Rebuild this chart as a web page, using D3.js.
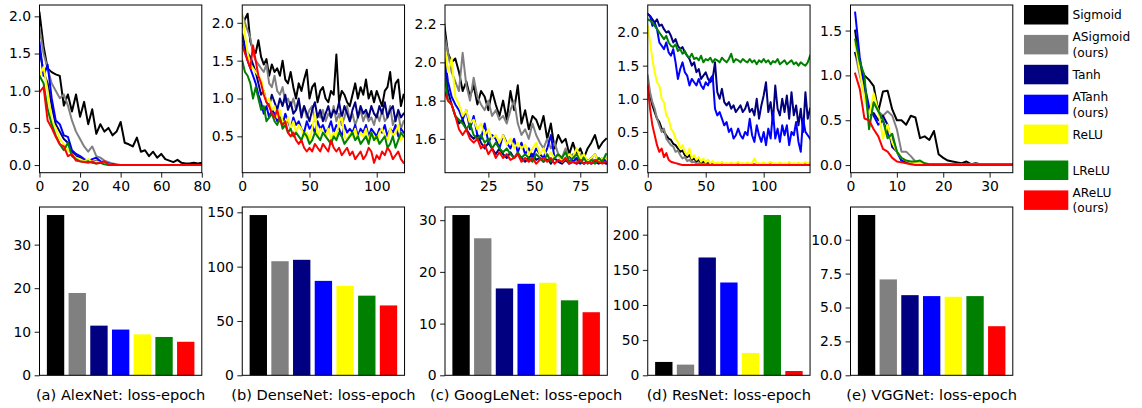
<!DOCTYPE html>
<html><head><meta charset="utf-8">
<script src="https://cdn.jsdelivr.net/npm/d3@7"></script>
<style>body{margin:0;background:#fff;} svg{display:block;} text{font-family:"DejaVu Sans",sans-serif;}</style>
</head><body><svg id="c" width="1142" height="408"></svg>
<script>
// ---------------- data ----------------
const seriesNames = ["Sigmoid","ASigmoid (ours)","Tanh","ATanh (ours)","ReLU","LReLU","AReLU (ours)"];
const seriesColors = ["#000000","#808080","#000080","#0000ff","#ffff00","#008000","#ff0000"];
const legendLabels = [["Sigmoid"],["ASigmoid","(ours)"],["Tanh"],["ATanh","(ours)"],["ReLU"],["LReLU"],["AReLU","(ours)"]];
const captions = ["(a) AlexNet: loss-epoch","(b) DenseNet: loss-epoch","(c) GoogLeNet: loss-epoch","(d) ResNet: loss-epoch","(e) VGGNet: loss-epoch"];

// AlexNet (epochs 0..80 step 2)
const alexEpochs = d3.range(0, 81, 2);
const alexSigmoid  = [2.05,1.6,1.3,1.25,1.22,1.2,0.8,0.95,0.72,0.95,0.65,0.85,0.55,0.75,0.42,0.55,0.45,0.5,0.4,0.45,0.58,0.3,0.28,0.25,0.37,0.18,0.2,0.12,0.18,0.1,0.15,0.08,0.06,0.04,0.07,0.03,0.02,0.02,0.03,0.02,0.03];
const alexASigmoid = [1.85,1.5,1.3,1.1,1.0,0.9,0.95,0.8,0.6,0.45,0.35,0.25,0.18,0.25,0.12,0.1,0.06,0.04,0.02,0.01,0,0,0,0,0,0,0,0,0,0,0,0,0,0,0,0,0,0,0,0,0];
const alexTanh     = [1.55,1.25,1.1,0.8,0.55,0.45,0.35,0.3,0.18,0.12,0.1,0.06,0.05,0.04,0.06,0.03,0.02,0.01,0,0,0,0,0,0,0,0,0,0,0,0,0,0,0,0,0,0,0,0,0,0,0];
const alexATanh    = [1.65,1.2,1.35,0.9,0.6,0.55,0.4,0.38,0.2,0.15,0.12,0.08,0.05,0.08,0.1,0.05,0.04,0.02,0.01,0,0,0,0,0,0,0,0,0,0,0,0,0,0,0,0,0,0,0,0,0,0];
const alexReLU     = [1.2,1.32,1.0,0.6,0.5,0.35,0.28,0.2,0.15,0.1,0.08,0.05,0.08,0.04,0.05,0.03,0.02,0.01,0,0,0,0,0,0,0,0,0,0,0,0,0,0,0,0,0,0,0,0,0,0,0];
const alexLReLU    = [1.2,1.1,0.75,0.55,0.4,0.28,0.2,0.3,0.12,0.08,0.05,0.04,0.05,0.03,0.02,0.03,0.01,0,0,0,0,0,0,0,0,0,0,0,0,0,0,0,0,0,0,0,0,0,0,0,0];
const alexAReLU    = [0.98,1.05,0.6,0.5,0.38,0.28,0.25,0.12,0.15,0.06,0.05,0.04,0.03,0.05,0.02,0.03,0.05,0.01,0,0,0,0,0,0,0,0,0,0,0,0,0,0,0,0,0,0,0,0,0,0,0];
const alexBars = [36.8,18.9,11.4,10.5,9.4,8.8,7.7];

// DenseNet (epochs 0..120 step 2)
const denseEpochs = d3.range(0, 121, 2);
const denseSigmoid  = [1.95,2.05,2.12,1.75,1.65,1.6,1.77,1.55,1.45,1.52,1.3,1.45,1.35,1.4,1.3,1.5,1.25,1.2,1.35,1.15,1.0,1.2,1.1,1.25,1.38,1.0,1.15,1.2,0.95,1.1,1.15,1.0,0.95,1.1,1.05,1.58,0.95,1.1,1.05,0.95,0.9,1.05,1.2,1.0,1.15,1.05,1.25,1.0,1.1,0.95,1.1,1.0,0.9,1.1,1.15,1.35,1.0,1.2,1.25,0.9,1.05];
const denseASigmoid = [2.1,2.0,1.9,1.8,1.6,1.5,1.45,1.4,1.35,1.45,1.2,1.15,1.3,1.1,1.05,1.15,0.95,1.0,0.9,1.0,0.85,0.95,0.8,0.9,0.75,0.85,0.9,0.7,0.8,0.75,0.85,0.7,0.8,0.75,0.9,0.7,0.8,0.65,0.75,0.9,0.7,0.8,0.65,0.75,0.85,0.7,0.8,0.7,0.75,0.65,0.8,0.7,0.85,0.7,0.75,0.9,0.65,0.75,0.8,0.6,0.7];
const denseTanh     = [1.85,1.7,1.6,1.55,1.45,1.35,1.2,1.05,1.1,0.95,0.9,1.05,0.95,0.85,1.0,0.9,1.05,0.85,0.95,0.8,0.85,1.0,0.75,0.9,0.8,0.7,0.85,0.95,0.75,0.85,0.7,0.8,0.9,0.75,0.85,0.8,0.95,0.75,0.9,0.8,0.7,0.85,0.95,0.75,0.9,0.8,0.85,0.75,0.9,0.8,0.75,0.9,0.8,0.95,0.75,0.85,0.9,0.7,0.85,0.75,0.8];
const denseATanh    = [1.8,1.65,1.5,1.4,1.3,1.2,1.05,0.95,0.8,0.9,0.75,0.85,0.8,0.7,0.75,0.65,0.8,0.7,0.6,0.75,0.65,0.7,0.6,0.55,0.7,0.6,0.65,0.55,0.7,0.6,0.65,0.55,0.6,0.7,0.55,0.65,0.6,0.5,0.65,0.55,0.6,0.55,0.65,0.5,0.6,0.55,0.65,0.5,0.6,0.55,0.5,0.6,0.55,0.65,0.5,0.6,0.55,0.65,0.5,0.6,0.55];
const denseReLU     = [2.1,1.85,1.6,1.45,1.4,1.35,1.3,1.25,1.1,0.95,1.0,0.85,0.9,0.75,0.85,0.7,0.65,0.75,0.6,0.7,0.55,0.65,0.6,0.5,0.55,0.45,0.6,0.8,0.5,0.6,0.55,0.5,0.6,0.45,0.55,0.5,0.7,0.75,0.5,0.45,0.55,0.5,0.6,0.45,0.55,0.5,0.6,0.45,0.55,0.5,0.45,0.55,0.6,0.5,0.45,0.6,0.5,0.55,0.65,0.45,0.5];
const denseLReLU    = [1.5,1.35,1.3,1.2,1.0,1.15,1.0,0.85,0.9,0.7,0.75,0.8,0.7,0.65,0.75,0.6,0.65,0.55,0.6,0.5,0.55,0.5,0.45,0.55,0.5,0.4,0.45,0.55,0.5,0.45,0.55,0.5,0.45,0.4,0.5,0.45,0.55,0.5,0.4,0.45,0.5,0.55,0.45,0.5,0.4,0.45,0.5,0.4,0.55,0.45,0.5,0.4,0.45,0.5,0.35,0.4,0.5,0.35,0.45,0.55,0.5];
const denseAReLU    = [1.7,1.6,1.5,1.4,1.7,1.5,1.3,1.2,1.05,0.95,0.9,0.8,0.75,0.85,0.7,0.65,0.7,0.55,0.5,0.55,0.45,0.4,0.45,0.35,0.3,0.35,0.3,0.4,0.35,0.3,0.4,0.35,0.3,0.45,0.35,0.3,0.35,0.25,0.3,0.35,0.25,0.3,0.2,0.25,0.3,0.2,0.25,0.35,0.3,0.15,0.25,0.2,0.3,0.25,0.35,0.3,0.2,0.25,0.3,0.2,0.15];
const denseBars = [147.5,105,106.3,86.9,82.3,73.3,64.3];

// GoogLeNet (epochs 1..89 step 2)
const googEpochs = d3.range(1, 90, 2);
const googSigmoid  = [2.2,2.05,2.0,2.02,1.95,1.85,1.9,1.82,1.88,1.78,1.85,1.82,1.75,1.85,1.78,1.72,1.8,1.7,1.85,1.75,1.88,1.68,1.75,1.65,1.72,1.7,1.65,1.72,1.6,1.68,1.55,1.62,1.58,1.6,1.52,1.58,1.52,1.55,1.5,1.55,1.58,1.62,1.55,1.58,1.6];
const googASigmoid = [2.15,2.05,1.95,1.9,1.85,2.05,1.88,1.8,1.92,1.82,1.78,1.75,1.8,1.72,1.75,1.7,1.72,1.68,1.75,1.8,1.68,1.62,1.65,1.6,1.68,1.62,1.58,1.55,1.6,1.55,1.58,1.52,1.5,1.55,1.5,1.52,1.48,1.52,1.5,1.48,1.5,1.48,1.5,1.48,1.5];
const googTanh     = [2.0,1.85,1.78,1.72,1.68,1.7,1.65,1.62,1.6,1.62,1.58,1.55,1.58,1.55,1.52,1.55,1.52,1.5,1.53,1.5,1.52,1.5,1.48,1.5,1.52,1.49,1.5,1.48,1.5,1.47,1.5,1.48,1.47,1.49,1.47,1.48,1.47,1.48,1.47,1.49,1.47,1.48,1.47,1.48,1.47];
const googATanh    = [2.05,1.9,1.82,1.78,1.75,1.7,1.75,1.65,1.72,1.62,1.6,1.68,1.58,1.62,1.6,1.55,1.62,1.58,1.55,1.6,1.53,1.58,1.52,1.55,1.5,1.55,1.52,1.5,1.55,1.62,1.5,1.52,1.48,1.5,1.52,1.48,1.5,1.47,1.5,1.48,1.5,1.52,1.48,1.5,1.48];
const googReLU     = [2.1,1.95,2.02,1.82,1.78,1.72,1.75,1.68,1.7,1.65,1.68,1.62,1.65,1.6,1.62,1.58,1.62,1.57,1.6,1.55,1.58,1.55,1.57,1.52,1.55,1.58,1.52,1.55,1.5,1.53,1.5,1.52,1.48,1.5,1.52,1.5,1.55,1.5,1.52,1.48,1.5,1.52,1.48,1.5,1.5];
const googLReLU    = [1.95,1.8,1.78,1.72,1.7,1.68,1.65,1.68,1.62,1.6,1.62,1.58,1.6,1.55,1.58,1.55,1.53,1.55,1.52,1.5,1.53,1.5,1.52,1.5,1.48,1.52,1.5,1.48,1.52,1.48,1.5,1.52,1.5,1.53,1.48,1.5,1.52,1.48,1.5,1.47,1.49,1.47,1.5,1.48,1.52];
const googAReLU    = [1.85,1.8,1.78,1.72,1.65,1.62,1.65,1.6,1.58,1.6,1.55,1.57,1.52,1.55,1.5,1.53,1.5,1.52,1.49,1.5,1.52,1.48,1.5,1.48,1.5,1.47,1.49,1.5,1.48,1.5,1.47,1.49,1.48,1.5,1.47,1.48,1.47,1.49,1.47,1.48,1.47,1.49,1.48,1.47,1.48];
const googBars = [31.0,26.5,16.8,17.7,17.9,14.5,12.2];

// ResNet (epochs 0..140 step 2)
const resEpochs = d3.range(0, 141, 2);
const resSigmoid  = [1.18,1.05,0.9,0.8,0.7,0.65,0.55,0.5,0.45,0.4,0.38,0.32,0.3,0.25,0.2,0.22,0.15,0.12,0.15,0.08,0.1,0.05,0.08,0.03,0.05,0.02,0.03,0.02,0.01,0.01,0.01,0.01,0.01,0.01,0.01,0.01,0.01,0.01,0.01,0.01,0.01,0.01,0.01,0.01,0.01,0.01,0.01,0.01,0.01,0.01,0.01,0.01,0.01,0.01,0.01,0.01,0.01,0.01,0.01,0.01,0.01,0.01,0.01,0.01,0.01,0.01,0.01,0.01,0.01,0.01,0.01];
const resASigmoid = [1.35,1.1,0.95,0.85,0.7,0.6,0.5,0.55,0.4,0.35,0.3,0.28,0.2,0.22,0.15,0.1,0.12,0.06,0.08,0.04,0.05,0.02,0.03,0.01,0.02,0.01,0.01,0.01,0.01,0.01,0.01,0.01,0.01,0.01,0.01,0.01,0.01,0.01,0.01,0.01,0.01,0.01,0.01,0.01,0.01,0.01,0.01,0.01,0.01,0.01,0.01,0.01,0.01,0.01,0.01,0.01,0.01,0.01,0.01,0.01,0.01,0.01,0.01,0.01,0.01,0.01,0.01,0.01,0.01,0.01,0.01];
const resTanh     = [2.28,2.25,2.2,2.15,2.2,2.1,2.12,2.05,2.0,2.02,1.95,1.85,1.9,1.8,1.75,1.78,1.7,1.65,1.6,1.5,1.55,1.4,1.45,1.3,1.35,1.4,1.3,1.25,1.3,1.55,1.1,1.0,1.15,0.95,0.9,0.95,0.85,0.9,0.8,0.85,0.9,0.8,0.85,0.95,0.8,0.85,0.75,1.0,0.7,0.9,1.05,1.25,0.8,0.95,0.65,1.2,0.85,0.75,1.0,0.8,1.05,0.7,1.1,0.75,0.9,0.6,0.85,0.5,1.1,0.7,0.85];
const resATanh    = [2.28,2.25,2.1,2.15,2.05,1.85,1.8,1.75,1.85,1.7,1.65,1.75,1.55,1.3,1.45,1.55,1.4,1.35,1.2,1.3,1.25,1.2,1.3,1.2,1.15,1.25,1.2,1.3,1.35,0.85,0.75,0.8,0.7,0.6,0.65,0.5,0.55,0.4,0.45,0.55,0.45,0.4,0.5,0.45,0.7,0.45,0.35,0.6,0.45,0.35,0.5,0.3,0.55,0.4,0.8,0.4,0.55,0.35,0.6,0.45,0.6,0.3,0.5,0.45,0.65,0.35,0.2,0.7,0.5,0.45,0.4];
const resReLU     = [2.1,1.85,1.6,1.4,1.25,1.2,1.0,0.95,0.75,0.7,0.55,0.5,0.4,0.35,0.25,0.3,0.2,0.15,0.25,0.1,0.15,0.08,0.12,0.05,0.1,0.04,0.08,0.03,0.06,0.02,0.04,0.02,0.05,0.02,0.03,0.02,0.04,0.02,0.03,0.05,0.02,0.03,0.02,0.04,0.02,0.03,0.1,0.02,0.03,0.02,0.04,0.02,0.03,0.05,0.02,0.03,0.02,0.04,0.02,0.03,0.02,0.05,0.02,0.03,0.02,0.04,0.02,0.03,0.05,0.02,0.04];
const resLReLU    = [2.2,2.18,2.15,2.1,2.05,2.0,1.95,1.9,1.95,1.85,1.8,1.78,1.82,1.72,1.75,1.68,1.72,1.65,1.62,1.68,1.6,1.62,1.58,1.65,1.55,1.6,1.58,1.62,1.55,1.6,1.58,1.55,1.62,1.58,1.55,1.6,1.68,1.55,1.6,1.58,1.55,1.6,1.57,1.55,1.6,1.55,1.58,1.52,1.58,1.55,1.6,1.55,1.58,1.52,1.57,1.55,1.6,1.52,1.55,1.58,1.52,1.55,1.58,1.52,1.55,1.5,1.55,1.52,1.5,1.55,1.65];
const resAReLU    = [1.2,0.85,0.6,0.45,0.3,0.2,0.25,0.12,0.18,0.08,0.05,0.04,0.03,0.02,0.01,0,0,0,0,0,0,0,0,0,0,0,0,0,0,0,0,0,0,0,0,0,0,0,0,0,0,0,0,0,0,0,0,0,0,0,0,0,0,0,0,0,0,0,0,0,0,0,0,0,0,0,0,0,0,0,0];
const resBars = [19.0,15.2,167.6,132.0,31.8,228.0,6.1];

// VGGNet (epochs 1..35)
const vggEpochs = d3.range(1, 36, 1);
const vggSigmoid  = [1.5,1.1,1.0,0.95,0.88,0.6,0.82,0.83,0.62,0.5,0.5,0.45,0.55,0.53,0.3,0.32,0.28,0.38,0.12,0.08,0.05,0.04,0.03,0.02,0.04,0.01,0.02,0.01,0.01,0.01,0.01,0.01,0.01,0.01,0.01];
const vggASigmoid = [1.25,1.0,0.8,0.6,0.7,0.6,0.55,0.6,0.55,0.4,0.15,0.15,0.1,0.04,0.02,0.01,0.01,0.01,0.01,0.01,0.01,0.01,0.01,0.01,0.01,0.01,0.01,0.01,0.01,0.01,0.01,0.01,0.01,0.01,0.01];
const vggTanh     = [1.25,1.1,0.9,0.55,0.58,0.5,0.55,0.45,0.2,0.15,0.05,0.03,0.02,0.01,0.01,0.01,0.01,0.01,0.01,0.01,0.01,0.01,0.01,0.01,0.01,0.01,0.01,0.01,0.01,0.01,0.01,0.01,0.01,0.01,0.01];
const vggATanh    = [1.7,1.2,0.9,0.65,0.55,0.45,0.5,0.35,0.3,0.15,0.05,0.03,0.02,0.01,0.01,0.01,0.01,0.01,0.01,0.01,0.01,0.01,0.01,0.01,0.01,0.01,0.01,0.01,0.01,0.01,0.01,0.01,0.01,0.01,0.01];
const vggReLU     = [1.35,1.05,0.75,0.55,0.8,0.6,0.3,0.45,0.25,0.15,0.08,0.05,0.03,0.02,0.02,0.01,0.01,0.01,0.01,0.01,0.01,0.01,0.01,0.01,0.01,0.01,0.01,0.01,0.01,0.01,0.01,0.01,0.01,0.01,0.01];
const vggLReLU    = [1.4,1.15,1.0,0.4,0.7,0.6,0.5,0.3,0.35,0.15,0.08,0.05,0.04,0.04,0.05,0.02,0.01,0.01,0.01,0.01,0.01,0.01,0.01,0.01,0.01,0.01,0.01,0.01,0.01,0.01,0.01,0.01,0.01,0.01,0.01];
const vggAReLU    = [1.02,0.85,0.52,0.5,0.4,0.32,0.18,0.15,0.08,0.04,0.03,0.02,0.01,0,0,0,0,0,0,0,0,0,0,0,0,0,0,0,0,0,0,0,0,0,0];
const vggBars = [11.82,7.07,5.91,5.84,5.79,5.84,3.62];

// axis settings
const lineXDomains = [[0,80],[0,120.7],[1.4,89.7],[0,140],[0,35]];
const lineYDomains = [[-0.1025,2.1525],[0.02,2.235],[1.423,2.3],[-0.115,2.415],[-0.085,1.785]];
const lineXTicks = [[0,20,40,60,80],[0,50,100],[25,50,75],[0,50,100],[0,10,20,30]];
const lineYTicks = [[0,0.5,1,1.5,2],[0.5,1,1.5,2],[1.6,1.8,2.0,2.2],[0,0.5,1,1.5,2],[0,0.5,1,1.5]];
const barYMax = [38.64,154.9,32.55,239.4,12.41];
const barYTicks = [[0,10,20,30],[0,50,100,150],[0,10,20,30],[0,50,100,150,200],[0,2.5,5,7.5,10]];
const barYFormats = ["d","d","d","d",".1f"];

// ---------------- drawing ----------------
const panels = [
  {epochs: alexEpochs, series: [alexSigmoid,alexASigmoid,alexTanh,alexATanh,alexReLU,alexLReLU,alexAReLU], bars: alexBars},
  {epochs: denseEpochs, series: [denseSigmoid,denseASigmoid,denseTanh,denseATanh,denseReLU,denseLReLU,denseAReLU], bars: denseBars},
  {epochs: googEpochs, series: [googSigmoid,googASigmoid,googTanh,googATanh,googReLU,googLReLU,googAReLU], bars: googBars},
  {epochs: resEpochs, series: [resSigmoid,resASigmoid,resTanh,resATanh,resReLU,resLReLU,resAReLU], bars: resBars},
  {epochs: vggEpochs, series: [vggSigmoid,vggASigmoid,vggTanh,vggATanh,vggReLU,vggLReLU,vggAReLU], bars: vggBars}
];

const svg = d3.select("#c");
const FONT = "DejaVu Sans";
const TICK_FS = 13.9;
const PW = 162.3, P0 = 39.5, PSTEP = 202.75;
const LT = 5, LB = 172.7, BT = 207, BB = 375.3;

function styleAxis(g){
  g.attr("font-family", FONT).attr("font-size", TICK_FS);
  g.select(".domain").remove();
  g.selectAll(".tick line").attr("stroke","#000").attr("stroke-width",0.9);
  g.selectAll(".tick text").attr("fill","#000");
}

panels.forEach((p, k) => {
  const left = P0 + k*PSTEP, right = left + PW;
  // ---- line panel ----
  const x = d3.scaleLinear().domain(lineXDomains[k]).range([left, right]);
  const y = d3.scaleLinear().domain(lineYDomains[k]).range([LB, LT]);
  const clipId = "clip" + k;
  svg.append("clipPath").attr("id", clipId).append("rect")
    .attr("x", left).attr("y", LT).attr("width", PW).attr("height", LB-LT);
  const gl = svg.append("g").attr("clip-path", `url(#${clipId})`);
  const line = d3.line().x(d => x(d[0])).y(d => y(d[1]));
  p.series.forEach((vals, si) => {
    const pts = vals.map((v, i) => [p.epochs[i], v]).filter(d => d[0] !== undefined);
    gl.append("path").datum(pts).attr("d", line)
      .attr("fill","none").attr("stroke", seriesColors[si]).attr("stroke-width", 2)
      .attr("stroke-linejoin","round").attr("stroke-linecap","square");
  });
  svg.append("g").attr("transform", `translate(0,${LB})`)
    .call(d3.axisBottom(x).tickValues(lineXTicks[k]).tickFormat(d3.format("d")).tickSize(4.9).tickPadding(3.5)).call(styleAxis);
  svg.append("g").attr("transform", `translate(${left},0)`)
    .call(d3.axisLeft(y).tickValues(lineYTicks[k]).tickFormat(d3.format(".1f")).tickSize(4.9).tickPadding(3.5)).call(styleAxis);
  svg.append("rect").attr("x", left).attr("y", LT).attr("width", PW).attr("height", LB-LT)
    .attr("fill","none").attr("stroke","#000").attr("stroke-width",1);

  // ---- bar panel ----
  const xb = d3.scaleBand().domain(d3.range(p.bars.length)).range([left, right]).paddingInner(0.2).paddingOuter(0.34);
  const yb = d3.scaleLinear().domain([0, barYMax[k]]).range([BB, BT]);
  svg.append("g").selectAll("rect").data(p.bars).join("rect")
    .attr("x", (d,i) => xb(i)).attr("width", xb.bandwidth())
    .attr("y", d => yb(d)).attr("height", d => BB - yb(d))
    .attr("fill", (d,i) => seriesColors[i]);
  svg.append("g").attr("transform", `translate(${left},0)`)
    .call(d3.axisLeft(yb).tickValues(barYTicks[k]).tickFormat(d3.format(barYFormats[k])).tickSize(4.9).tickPadding(3.5)).call(styleAxis);
  svg.append("rect").attr("x", left).attr("y", BT).attr("width", PW).attr("height", BB-BT)
    .attr("fill","none").attr("stroke","#000").attr("stroke-width",1);

  // caption
  svg.append("text").attr("x", (left+right)/2).attr("y", 400)
    .attr("text-anchor","middle").attr("font-family", FONT).attr("font-size", 14.6)
    .attr("fill","#000").text(captions[k]);
});

// legend
const lg = svg.append("g");
legendLabels.forEach((lines, i) => {
  const y0 = 5 + i*29.9 + (i >= 5 ? 6 : 0);
  lg.append("rect").attr("x", 1024).attr("y", y0).attr("width", 44.3).attr("height", 19.5)
    .attr("fill", seriesColors[i]);
  const cy = y0 + 9.75;
  lines.forEach((t, j) => {
    const off = lines.length === 1 ? 0 : (j === 0 ? -7.8 : 7.8);
    lg.append("text").attr("x", 1072.5).attr("y", cy + off).attr("dy","0.35em")
      .attr("font-family", FONT).attr("font-size", 12.2).attr("fill","#000").text(t);
  });
});
</script></body></html>
